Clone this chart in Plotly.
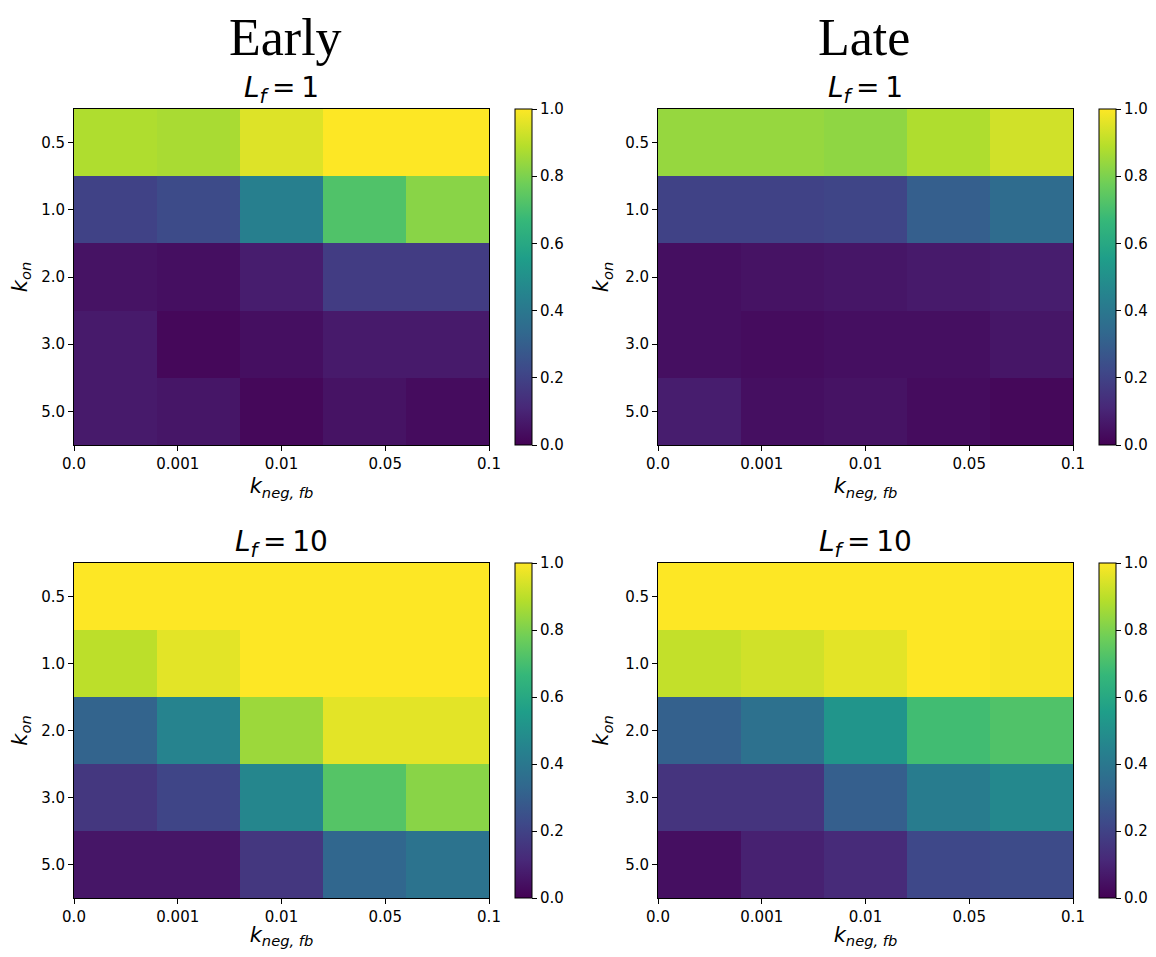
import numpy as np
import plotly.graph_objects as go

# ---- data ----
k_neg_fb_labels = ["0.0", "0.001", "0.01", "0.05", "0.1"]
k_on_labels = ["0.5", "1.0", "2.0", "3.0", "5.0"]
column_titles = ["Early", "Late"]
row_titles = ["<i>L</i><sub><i>f</i></sub>\u2009=\u20091", "<i>L</i><sub><i>f</i></sub>\u2009=\u200910"]

early_lf1 = [
    [0.88, 0.87, 0.95, 1.00, 1.00],
    [0.20, 0.23, 0.43, 0.72, 0.82],
    [0.05, 0.04, 0.08, 0.18, 0.18],
    [0.07, 0.02, 0.04, 0.07, 0.07],
    [0.07, 0.06, 0.02, 0.05, 0.03],
]
late_lf1 = [
    [0.84, 0.84, 0.83, 0.88, 0.93],
    [0.20, 0.20, 0.21, 0.30, 0.35],
    [0.04, 0.05, 0.06, 0.07, 0.08],
    [0.04, 0.03, 0.04, 0.04, 0.06],
    [0.08, 0.04, 0.05, 0.03, 0.02],
]
early_lf10 = [
    [1.00, 1.00, 1.00, 1.00, 1.00],
    [0.90, 0.96, 1.00, 1.00, 1.00],
    [0.32, 0.45, 0.85, 0.96, 0.96],
    [0.16, 0.21, 0.46, 0.73, 0.82],
    [0.06, 0.06, 0.16, 0.33, 0.38],
]
late_lf10 = [
    [1.00, 1.00, 1.00, 1.00, 1.00],
    [0.91, 0.93, 0.96, 1.00, 0.99],
    [0.31, 0.37, 0.52, 0.69, 0.72],
    [0.15, 0.15, 0.30, 0.42, 0.47],
    [0.04, 0.09, 0.12, 0.22, 0.23],
]
cbar_ticks = [0.0, 0.2, 0.4, 0.6, 0.8, 1.0]

# ---- layout geometry (screen pixels; page body has an 8px margin) ----
OFF = 8
W, H = 1156 - 2 * OFF, 957 - 2 * OFF
col_x = [(74, 489), (658, 1073)]
row_y = [(109, 445), (563, 898)]
cbar_x = [515, 1099]
col_center = [285, 864]


def px(v):
    return (v - OFF) / W


def py(v):
    return 1 - (v - OFF) / H


ncol = len(k_neg_fb_labels)
x_edges = np.linspace(0, ncol - 1, ncol + 1)
y_idx = list(range(len(k_on_labels)))

panels = [
    (0, 0, early_lf1),
    (0, 1, late_lf1),
    (1, 0, early_lf10),
    (1, 1, late_lf10),
]

fig = go.Figure()
layout = dict(
    width=W, height=H,
    margin=dict(l=0, r=0, t=0, b=0, autoexpand=False),
    paper_bgcolor="white", plot_bgcolor="white",
    font=dict(family="DejaVu Sans", color="black", size=15),
    showlegend=False,
)
annotations = []

tickfont = dict(family="DejaVu Sans", size=15, color="black")
for i, (r, c, z) in enumerate(panels):
    n = i + 1
    xa = "xaxis" if n == 1 else f"xaxis{n}"
    ya = "yaxis" if n == 1 else f"yaxis{n}"
    xr = "x" if n == 1 else f"x{n}"
    yr = "y" if n == 1 else f"y{n}"
    x0, x1 = col_x[c]
    y0, y1 = row_y[r]
    ydom = [py(y1), py(y0)]
    fig.add_trace(go.Heatmap(
        z=z, x=x_edges, y=y_idx, xaxis=xr, yaxis=yr,
        colorscale="Viridis", zmin=0, zmax=1,
        hoverinfo="skip",
        colorbar=dict(
            x=px(cbar_x[c]), xanchor="left",
            y=ydom[1], yanchor="top",
            len=(y1 - y0) / H, lenmode="fraction",
            thickness=17, thicknessmode="pixels",
            outlinewidth=1, outlinecolor="black",
            ticks="outside", ticklen=5, tickwidth=1, tickcolor="black",
            tickvals=cbar_ticks, tickformat=".1f",
            tickfont=tickfont, xpad=0, ypad=0,
        ),
    ))
    layout[xa] = dict(
        domain=[px(x0), px(x1)], anchor=yr, automargin=False,
        range=[0, ncol - 1],
        tickvals=list(range(ncol)), ticktext=k_neg_fb_labels,
        ticks="outside", ticklen=5, tickwidth=1, tickcolor="black",
        showline=True, linecolor="black", linewidth=1, mirror=True,
        showgrid=False, zeroline=False, tickfont=tickfont,
        title=dict(text="<i>k</i><sub><i>neg, fb</i></sub>",
                   font=dict(family="DejaVu Sans", size=21), standoff=6),
    )
    layout[ya] = dict(
        domain=ydom, anchor=xr, automargin=False,
        range=[len(k_on_labels) - 0.5, -0.5],
        tickvals=y_idx, ticktext=k_on_labels,
        ticks="outside", ticklen=5, tickwidth=1, tickcolor="black",
        showline=True, linecolor="black", linewidth=1, mirror=True,
        showgrid=False, zeroline=False, tickfont=tickfont,
        title=dict(text="<i>k</i><sub><i>on</i></sub>",
                   font=dict(family="DejaVu Sans", size=21), standoff=10),
    )
    annotations.append(dict(
        text=row_titles[r], xref=f"{xr} domain", yref=f"{yr} domain",
        x=0.5, y=1, xanchor="center", yanchor="bottom", yshift=0,
        borderpad=0,
        showarrow=False, font=dict(family="DejaVu Sans", size=28, color="black"),
    ))

for c, t in enumerate(column_titles):
    annotations.append(dict(
        text=t, xref="paper", yref="paper",
        x=px(col_center[c]), y=1, xanchor="center", yanchor="top",
        borderpad=0,
        showarrow=False, font=dict(family="Liberation Serif", size=52, color="black"),
    ))

layout["annotations"] = annotations
fig.update_layout(**layout)
fig.write_html("out.html")
